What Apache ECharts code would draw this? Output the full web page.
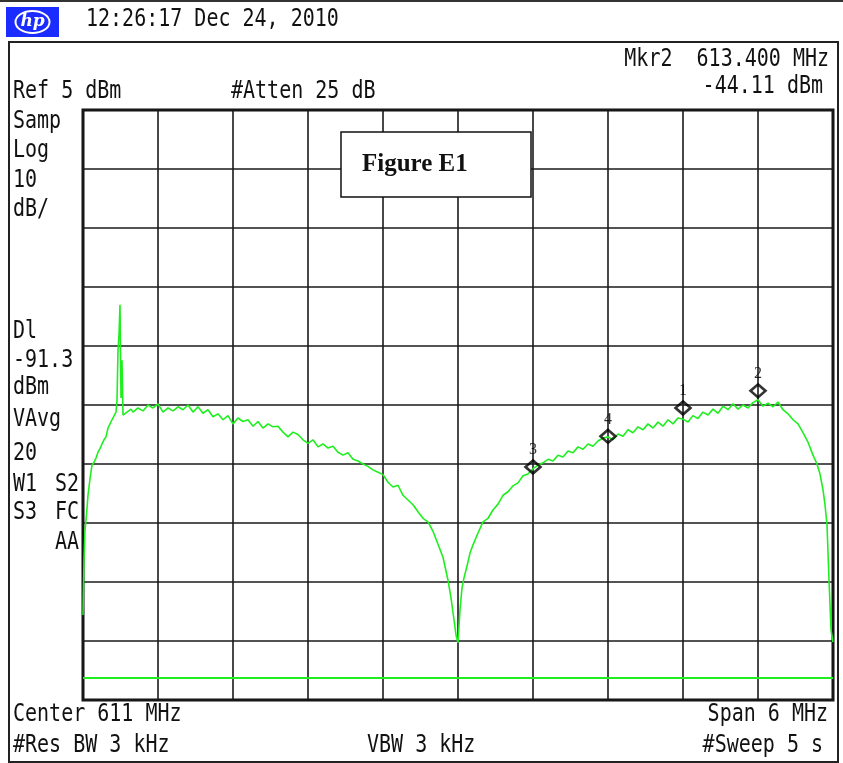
<!DOCTYPE html>
<html>
<head>
<meta charset="utf-8">
<script src="https://cdn.jsdelivr.net/npm/echarts@6/dist/echarts.min.js"></script>
<style>
html,body{margin:0;padding:0;background:#fff;}
#chart{width:843px;height:763px;}
</style>
</head>
<body>
<div id="chart"></div>
<script>
// ---- Data ----
// Trace: frequency (MHz) and level (dBm)
var freqMHz = [
  608.000,608.008,608.016,608.028,608.040,608.056,608.072,608.088,608.104,608.120,
  608.136,608.152,608.168,608.184,608.200,608.216,608.232,608.248,608.264,608.272,
  608.280,608.288,608.296,608.304,608.312,608.320,608.336,608.352,608.368,608.384,
  608.40,608.44,608.48,608.52,608.56,608.60,608.64,608.68,608.72,608.76,
  608.80,608.84,608.88,608.92,608.96,609.00,609.04,609.08,609.12,609.16,
  609.20,609.24,609.28,609.32,609.36,609.40,609.44,609.48,609.52,609.56,
  609.60,609.64,609.68,609.72,609.76,609.80,609.84,609.88,609.92,609.96,
  610.00,610.04,610.08,610.12,610.16,610.20,610.24,610.28,610.32,610.36,
  610.40,610.44,610.48,610.52,610.56,610.60,610.64,610.68,610.72,610.76,
  610.80,610.84,610.88,
  610.920,610.944,610.968,610.984,611.000,611.016,611.032,611.048,611.072,611.096,
  611.12,611.16,611.20,611.24,611.28,611.32,611.36,611.40,611.44,611.48,
  611.52,611.56,611.60,611.64,611.68,611.72,611.76,611.80,611.84,611.88,
  611.92,611.96,612.00,612.04,612.08,612.12,612.16,612.20,612.24,612.28,
  612.32,612.36,612.40,612.44,612.48,612.52,612.56,612.60,612.64,612.68,
  612.72,612.76,612.80,612.84,612.88,612.92,612.96,613.00,613.04,613.08,
  613.12,613.16,613.20,613.24,613.28,613.32,613.36,613.40,613.44,613.48,
  613.52,613.56,613.60,613.64,613.68,613.72,613.76,613.80,613.84,
  613.872,613.896,613.920,613.936,613.952,613.968,613.984,614.000
];
var levelDbm = [
  -80.6,-71.3,-66.2,-63.6,-60.3,-57.5,-55.2,-54.7,-54.0,-53.0,
  -52.4,-51.6,-50.9,-50.4,-48.9,-48.2,-47.5,-47.2,-46.2,-44.2,
  -35.7,-33.1,-28.0,-43.8,-37.4,-46.7,-46.8,-46.2,-46.5,-45.7,
  -46.2,-45.5,-46.0,-45.0,-45.5,-44.8,-46.2,-45.5,-46.0,-45.3,
  -45.8,-45.0,-46.2,-45.3,-46.4,-45.8,-47.0,-46.5,-47.5,-46.8,
  -48.2,-47.2,-47.8,-47.5,-48.6,-47.8,-48.9,-48.2,-48.7,-48.6,
  -49.6,-50.4,-49.6,-50.0,-50.9,-51.5,-50.9,-52.1,-51.6,-52.3,
  -52.0,-53.0,-53.5,-53.1,-54.2,-54.5,-55.0,-55.4,-56.0,-56.4,
  -56.8,-58.1,-58.9,-58.6,-60.3,-61.1,-61.9,-63.1,-64.2,-64.8,
  -66.4,-68.6,-70.8,
  -74.7,-77.7,-81.4,-84.0,-85.3,-79.7,-76.0,-74.3,-72.3,-70.1,
  -68.7,-66.7,-64.8,-64.2,-62.8,-61.8,-60.3,-59.7,-58.7,-58.2,
  -57.0,-56.7,-55.8,-55.2,-54.8,-54.2,-54.5,-53.5,-53.8,-52.8,
  -53.1,-52.1,-52.5,-51.6,-52.0,-51.1,-50.6,-50.4,-50.9,-49.9,
  -50.3,-49.2,-49.7,-48.7,-49.2,-48.2,-48.9,-47.9,-48.6,-47.5,
  -48.2,-47.2,-47.4,-47.9,-46.8,-47.3,-46.2,-46.7,-45.7,-46.4,
  -45.2,-45.8,-44.8,-45.7,-45.0,-45.5,-44.6,-44.1,-45.2,-44.7,
  -45.3,-44.5,-45.8,-46.5,-47.5,-48.2,-49.7,-51.3,-53.5,
  -55.0,-56.7,-59.4,-61.9,-65.3,-74.6,-83.1,-85.2
];
// Markers (as drawn)
var markerNames = ['1','2','3','4'];
var markerFreq  = [612.8, 613.4, 611.6, 612.2];
var markerLevel = [-45.5, -42.6, -55.5, -50.3];
// Display line
var displayLineDbm = -91.3;
// Axis ranges: Center 611 MHz, Span 6 MHz; Ref 5 dBm, 10 dB/div
var freqMin = 608, freqMax = 614;
var refLevel = 5, dbPerDiv = 10, divisions = 10;

// Annotation texts
var headerText = '12:26:17 Dec 24, 2010';
var refText = 'Ref 5 dBm';
var attenText = '#Atten 25 dB';
var mkrText = 'Mkr2  613.400 MHz';
var mkrValText = '-44.11 dBm';
var leftTexts = ['Samp','Log','10','dB/','Dl','-91.3','dBm','VAvg','20'];
var leftTextY = [122,151,181,210,332,361,388,420,454];
var centerText = 'Center 611 MHz';
var spanText = 'Span 6 MHz';
var rbwText = '#Res BW 3 kHz';
var vbwText = 'VBW 3 kHz';
var sweepText = '#Sweep 5 s';
var figText = 'Figure E1';

var trace = freqMHz.map(function(f, i){ return [f, levelDbm[i]]; });
var markers = markerFreq.map(function(f, i){ return {value:[f, markerLevel[i]], name: markerNames[i]}; });

var MONO = '20px "DejaVu Sans Mono"';
var GREEN = '#1fef1f';
function txt(s, x, y, align){
  return {type:'text', x:x, y:y, scaleY:1.2, z:50,
    style:{text:s, font:MONO, fill:'#111', align:align||'left', textAlign:align||'left',
           verticalAlign:'middle', textVerticalAlign:'middle'}};
}
var graphics = [
  {type:'rect', shape:{x:0,y:0,width:843,height:2}, style:{fill:'#333'}, z:50},
  {type:'rect', shape:{x:9,y:42,width:829,height:720}, style:{fill:'rgba(0,0,0,0)', stroke:'#222', lineWidth:2}, z:50},
  {type:'rect', shape:{x:6,y:7,width:53,height:30}, style:{fill:'#1a2cff'}, z:50},
  {type:'ellipse', shape:{cx:32.5,cy:22,rx:17,ry:11}, style:{fill:'rgba(0,0,0,0)', stroke:'#fff', lineWidth:2}, z:51},
  {type:'text', x:32.5, y:22, z:52, style:{text:'hp', font:'italic bold 17px "DejaVu Serif"', fill:'#fff',
     align:'center', textAlign:'center', verticalAlign:'middle', textVerticalAlign:'middle'}},
  txt(headerText, 86, 20),
  txt(refText, 13, 92),
  txt(attenText, 231, 92),
  txt(mkrText, 829, 60, 'right'),
  txt(mkrValText, 823, 87, 'right'),
  txt('W1', 13, 485), txt('S2', 79, 485, 'right'),
  txt('S3', 13, 513), txt('FC', 79, 513, 'right'),
  txt('AA', 79, 543, 'right'),
  txt(centerText, 13, 715),
  txt(spanText, 828, 715, 'right'),
  txt(rbwText, 13, 746),
  txt(vbwText, 367, 746),
  txt(sweepText, 823, 746, 'right'),
  {type:'rect', shape:{x:341,y:132,width:190,height:65}, style:{fill:'#fff', stroke:'#111', lineWidth:1.5}, z:60},
  {type:'text', x:362, y:165, z:61, style:{text:figText, font:'bold 25px "Liberation Serif"', fill:'#111',
     align:'left', textAlign:'left', verticalAlign:'middle', textVerticalAlign:'middle'}}
];
leftTexts.forEach(function(s, i){ graphics.push(txt(s, 13, leftTextY[i])); });

var chart = echarts.init(document.getElementById('chart'), null, {renderer:'canvas'});
chart.setOption({
  animation:false,
  backgroundColor:'#fff',
  grid:{left:83, right:10, top:110, bottom:63, show:true, borderColor:'#111', borderWidth:3, backgroundColor:'#fff', z:0},
  xAxis:[
    {type:'value', min:freqMin, max:freqMax, show:false},
    {type:'value', min:0, max:divisions, interval:1, position:'bottom',
     axisLine:{show:false}, axisTick:{show:false}, axisLabel:{show:false},
     splitLine:{show:true, lineStyle:{color:'#1a1a1a', width:1.6}}}
  ],
  yAxis:[
    {type:'value', min:refLevel - dbPerDiv*divisions, max:refLevel, show:false},
    {type:'value', min:0, max:divisions, interval:1,
     axisLine:{show:false}, axisTick:{show:false}, axisLabel:{show:false},
     splitLine:{show:true, lineStyle:{color:'#1a1a1a', width:1.6}}}
  ],
  series:[
    {type:'line', xAxisIndex:0, yAxisIndex:0, data:trace, showSymbol:false, symbol:'none',
     lineStyle:{color:GREEN, width:1.6}, z:5, silent:true,
     markLine:{silent:true, symbol:['none','none'], label:{show:false},
       lineStyle:{color:GREEN, width:2, type:'solid'},
       data:[{yAxis:displayLineDbm}]}},
    {type:'scatter', xAxisIndex:0, yAxisIndex:0, data:markers, symbol:'diamond', symbolSize:[15,13],
     itemStyle:{color:'rgba(0,0,0,0)', borderColor:'#000', borderWidth:2.6}, z:10, silent:true,
     label:{show:true, position:'top', distance:1, color:'#000', fontSize:16,
       fontFamily:'Liberation Serif', formatter:function(p){ return p.name; }}}
  ],
  graphic:graphics
});
</script>
</body>
</html>
